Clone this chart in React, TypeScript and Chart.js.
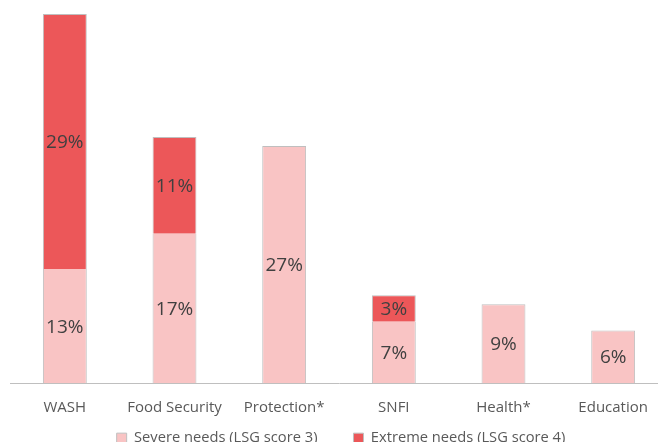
import React, { useEffect, useRef } from "react";
import { Chart, registerables } from "chart.js";

Chart.register(...registerables);

const categories = ["WASH", "Food Security", "Protection*", "SNFI", "Health*", "Education"];
const severeNeeds = [13, 17, 27, 7, 9, 6];
const extremeNeeds = [29, 11, 0, 3, 0, 0];
const seriesNames = ["Severe needs (LSG score 3)", "Extreme needs (LSG score 4)"];

const FONT = "'Open Sans', 'Noto Sans', sans-serif";
const LEGEND_PAD = 36;

const labelPlugin = {
  id: "segmentLabels",
  afterDatasetsDraw(chart: any) {
    const ctx = chart.ctx;
    ctx.save();
    ctx.font = `19px ${FONT}`;
    ctx.fillStyle = "#404040";
    ctx.textAlign = "center";
    ctx.textBaseline = "middle";
    chart.data.datasets.forEach((ds: any, di: number) => {
      const meta = chart.getDatasetMeta(di);
      meta.data.forEach((el: any, i: number) => {
        const v = ds.data[i];
        if (!v) return;
        const { x, y, base } = el.getProps(["x", "y", "base"], true);
        ctx.fillText(`${v}%`, x, (y + base) / 2 + 1);
      });
    });
    ctx.restore();
  },
};

// pull the legend row up closer to the axis labels (its padding also sets the gap between items)
const legendShift = {
  id: "legendShift",
  afterLayout(chart: any) {
    const lg = chart.legend;
    if (!lg) return;
    const targetTop = chart.chartArea.bottom + 55 - LEGEND_PAD - 7.5;
    const dy = targetTop - lg.top;
    lg.top += dy;
    lg.bottom += dy;
    lg.left += 2;
    lg.right += 2;
  },
};

export default function App() {
  const ref = useRef<HTMLCanvasElement | null>(null);
  useEffect(() => {
    if (!ref.current) return;
    const chart = new Chart(ref.current, {
      type: "bar",
      data: {
        labels: categories,
        datasets: [
          {
            label: seriesNames[0],
            data: severeNeeds,
            backgroundColor: "#F9C4C4",
            borderColor: "#BFBFBF",
            borderSkipped: false,
            borderWidth: (c: any) => ({
              left: 1,
              right: 1,
              bottom: 0,
              top: extremeNeeds[c.dataIndex] > 0 ? 0 : 1,
            }),
          },
          {
            label: seriesNames[1],
            data: extremeNeeds,
            backgroundColor: "#EC5759",
            borderColor: "#BFBFBF",
            borderSkipped: false,
            borderWidth: { left: 1, right: 1, bottom: 0, top: 1 },
          },
        ],
      },
      options: {
        animation: false,
        responsive: false,
        maintainAspectRatio: false,
        devicePixelRatio: 1,
        layout: { padding: { left: 10, right: 10, top: 14, bottom: 0 } },
        datasets: { bar: { categoryPercentage: 1, barPercentage: 0.4 } },
        scales: {
          x: {
            stacked: true,
            grid: { display: false, drawTicks: false },
            border: { display: true, color: "#BFBFBF", width: 1 },
            ticks: { color: "#595959", font: { family: FONT, size: 15 }, padding: 15 },
          },
          y: {
            stacked: true,
            display: false,
            min: 0,
            max: 42,
          },
        },
        plugins: {
          legend: {
            position: "bottom",
            labels: {
              boxWidth: 10,
              boxHeight: 10,
              color: "#595959",
              font: { family: FONT, size: 14.7 },
              padding: LEGEND_PAD,
              useBorderRadius: false,
              generateLabels: (chart: any) =>
                chart.data.datasets.map((ds: any, i: number) => ({
                  text: ds.label,
                  fillStyle: ds.backgroundColor,
                  strokeStyle: "#BFBFBF",
                  lineWidth: 1,
                  fontColor: "#595959",
                  hidden: false,
                  datasetIndex: i,
                })),
            },
          },
          tooltip: { enabled: false },
        },
      },
      plugins: [labelPlugin, legendShift],
    });
    return () => chart.destroy();
  }, []);
  return (
    <div style={{ position: "fixed", left: 0, top: 0, width: 658, height: 442, overflow: "hidden", background: "#fff" }}>
      <canvas ref={ref} width={678} height={492} style={{ display: "block", width: 678, height: 492 }} />
    </div>
  );
}
